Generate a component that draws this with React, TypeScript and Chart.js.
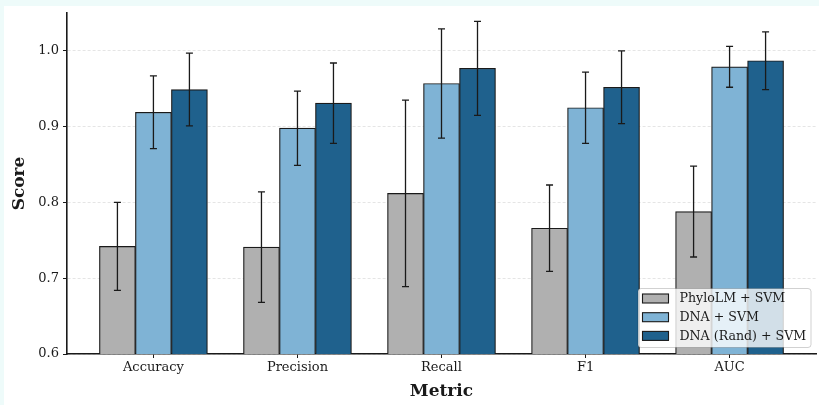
import React, { useEffect, useRef } from "react";
import { Chart, registerables } from "chart.js";

Chart.register(...registerables);

// ---- data ----
const categories = ["Accuracy", "Precision", "Recall", "F1", "AUC"];
const seriesLabels = ["PhyloLM + SVM", "DNA + SVM", "DNA (Rand) + SVM"];
const phyloValues = [0.742, 0.741, 0.812, 0.766, 0.788];
const phyloErrors = [0.058, 0.073, 0.123, 0.057, 0.06];
const dnaValues = [0.919, 0.898, 0.957, 0.925, 0.979];
const dnaErrors = [0.048, 0.049, 0.072, 0.047, 0.027];
const randValues = [0.949, 0.931, 0.977, 0.952, 0.987];
const randErrors = [0.048, 0.053, 0.062, 0.048, 0.038];
const yTicks = [0.6, 0.7, 0.8, 0.9, 1.0];
const colors = ["#b0b0b0", "#7fb3d5", "#1f618d"];

const allValues = [phyloValues, dnaValues, randValues];
const allErrors = [phyloErrors, dnaErrors, randErrors];

const FONT = "'DejaVu Serif', serif";

const errorBarPlugin = {
  id: "errorBars",
  afterDatasetsDraw(chart: any) {
    const ctx = chart.ctx;
    const ys = chart.scales.y;
    chart.data.datasets.forEach((_ds: any, di: number) => {
      const meta = chart.getDatasetMeta(di);
      meta.data.forEach((bar: any, i: number) => {
        const v = allValues[di][i];
        const e = allErrors[di][i];
        const top = ys.getPixelForValue(v + e);
        const bot = ys.getPixelForValue(v - e);
        const x = bar.x;
        ctx.save();
        ctx.strokeStyle = "#1a1a1a";
        ctx.lineWidth = 1.3;
        ctx.beginPath();
        ctx.moveTo(x, top);
        ctx.lineTo(x, bot);
        ctx.moveTo(x - 3.5, top);
        ctx.lineTo(x + 3.5, top);
        ctx.moveTo(x - 3.5, bot);
        ctx.lineTo(x + 3.5, bot);
        ctx.stroke();
        ctx.restore();
      });
    });
  },
};

const legendPlugin = {
  id: "innerLegend",
  afterDraw(chart: any) {
    const ctx = chart.ctx;
    const area = chart.chartArea;
    const boxW = 173;
    const boxH = 59;
    const right = area.right - 5;
    const bottom = area.bottom - 6.5;
    const left = right - boxW;
    const top = bottom - boxH;
    ctx.save();
    ctx.beginPath();
    ctx.roundRect(left, top, boxW, boxH, 3);
    ctx.fillStyle = "rgba(255,255,255,0.8)";
    ctx.fill();
    ctx.strokeStyle = "rgba(0,0,0,0.18)";
    ctx.lineWidth = 1;
    ctx.stroke();
    ctx.font = `12.6px ${FONT}`;
    ctx.textBaseline = "middle";
    ctx.textAlign = "left";
    chart.data.datasets.forEach((ds: any, i: number) => {
      const cy = top + 10 + i * 18.7;
      ctx.fillStyle = ds.backgroundColor;
      ctx.fillRect(left + 4.5, cy - 4.5, 26, 9);
      ctx.strokeStyle = "#1a1a1a";
      ctx.lineWidth = 1.1;
      ctx.strokeRect(left + 4.5, cy - 4.5, 26, 9);
      ctx.fillStyle = "#1a1a1a";
      ctx.fillText(ds.label, left + 41.5, cy + 0.5);
    });
    ctx.restore();
  },
};

export default function App() {
  const canvasRef = useRef<HTMLCanvasElement>(null);

  useEffect(() => {
    document.body.style.margin = "0";
    document.body.style.background = "#eefbfa";
    const canvas = canvasRef.current!;
    const datasets = allValues.map((vals, di) => ({
      label: seriesLabels[di],
      data: vals.map((v, i) => ({ x: i, y: v })),
      backgroundColor: colors[di],
      borderColor: "#1a1a1a",
      borderWidth: 1.2,
      borderSkipped: "start",
      barThickness: 36,
    }));
    const chart = new Chart(canvas, {
      type: "bar",
      data: { datasets: datasets as any },
      options: {
        responsive: false,
        animation: false,
        devicePixelRatio: 1,
        layout: { padding: { left: 0, top: 13, right: 3, bottom: 0 } },
        plugins: {
          legend: { display: false },
          tooltip: { enabled: false },
        },
        scales: {
          x: {
            type: "linear",
            min: -0.6,
            max: 4.6,
            offset: false,
            afterBuildTicks: (scale: any) => {
              scale.ticks = categories.map((_c, i) => ({ value: i }));
            },
            afterFit: (scale: any) => {
              scale.height = 51;
            },
            ticks: {
              callback: (v: any) => categories[v] ?? "",
              color: "#1a1a1a",
              font: { family: FONT, size: 13 },
              padding: 2,
              autoSkip: false,
              maxRotation: 0,
            },
            grid: {
              offset: false,
              color: "rgba(0,0,0,0)",
              tickColor: "#1a1a1a",
              tickLength: 4,
              tickWidth: 1,
            },
            border: { display: true, color: "#1a1a1a", width: 1.6 },
            title: {
              display: true,
              text: "Metric",
              color: "#1a1a1a",
              font: { family: FONT, size: 17, weight: "bold" },
              padding: { top: 0, bottom: 3 },
            },
          },
          y: {
            min: 0.6,
            max: 1.05,
            afterBuildTicks: (scale: any) => {
              scale.ticks = yTicks.map((v) => ({ value: v }));
            },
            afterFit: (scale: any) => {
              scale.width = 67;
            },
            ticks: {
              callback: (v: any) => Number(v).toFixed(1),
              color: "#1a1a1a",
              font: { family: FONT, size: 13 },
              padding: 4,
            },
            grid: {
              color: "rgba(0,0,0,0.13)",
              lineWidth: 0.8,
              tickColor: "#1a1a1a",
              tickLength: 4,
              tickWidth: 1,
              tickBorderDash: [],
            },
            border: { display: true, color: "#1a1a1a", width: 1.6, dash: [3, 2] },
            title: {
              display: true,
              text: "Score",
              color: "#1a1a1a",
              font: { family: FONT, size: 17, weight: "bold" },
              padding: { top: 9, bottom: 0 },
            },
          },
        },
      } as any,
      plugins: [errorBarPlugin, legendPlugin],
    });
    return () => chart.destroy();
  }, []);

  return (
    <div style={{ position: "relative", width: 819, height: 405, overflow: "hidden" }}>
      <div style={{ position: "absolute", left: 4, top: 6, width: 815, height: 399, background: "#ffffff" }} />
      <canvas ref={canvasRef} width={819} height={405} style={{ position: "absolute", left: 0, top: 0 }} />
    </div>
  );
}
